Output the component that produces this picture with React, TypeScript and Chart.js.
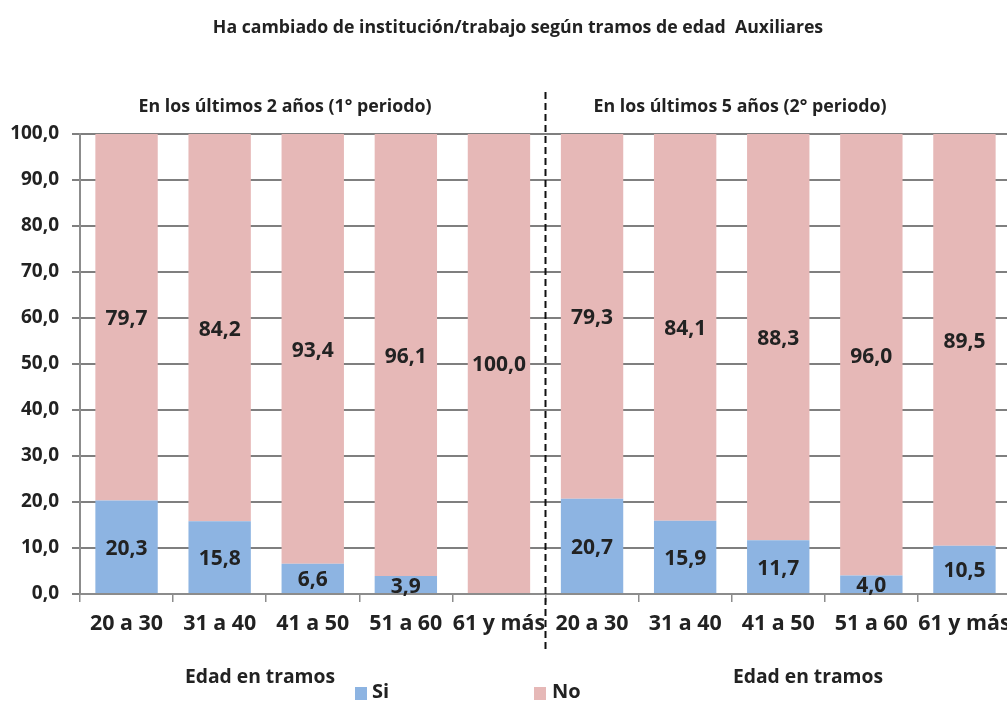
import React, { useEffect, useRef } from "react";
import { Chart, registerables } from "chart.js";

Chart.register(...registerables);

const categories = [
  "20 a 30", "31 a 40", "41 a 50", "51 a 60", "61 y más",
  "20 a 30", "31 a 40", "41 a 50", "51 a 60", "61 y más",
];
const siValues = [20.3, 15.8, 6.6, 3.9, 0, 20.7, 15.9, 11.7, 4.0, 10.5];
const noValues = [79.7, 84.2, 93.4, 96.1, 100.0, 79.3, 84.1, 88.3, 96.0, 89.5];
const yTicks = [0, 10, 20, 30, 40, 50, 60, 70, 80, 90, 100];

const chartTitle = "Ha cambiado de institución/trabajo según tramos de edad  Auxiliares";
const periodTitles = ["En los últimos 2 años (1° periodo)", "En los últimos 5 años (2° periodo)"];
const axisTitle = "Edad en tramos";
const seriesNames = ["Si", "No"];

const BLUE = "#8DB4E2";
const PINK = "#E6B8B7";
const FONT = "'Open Sans', sans-serif";

const fmt = (v: number) => v.toFixed(1).replace(".", ",");

const overlayPlugin = {
  id: "overlay",
  afterDatasetsDraw(chart: any) {
    const ctx = chart.ctx;
    ctx.save();
    ctx.font = `bold 21px ${FONT}`;
    ctx.fillStyle = "#222";
    ctx.textAlign = "center";
    ctx.textBaseline = "middle";
    chart.data.datasets.forEach((ds: any, di: number) => {
      const meta = chart.getDatasetMeta(di);
      meta.data.forEach((bar: any, i: number) => {
        const v = ds.data[i];
        if (!v) return;
        const yc = (bar.y + bar.base) / 2;
        ctx.fillText(fmt(v), bar.x, yc + 2);
      });
    });
    ctx.restore();
  },
  afterDraw(chart: any) {
    const ctx = chart.ctx;
    const x = chart.scales.x;
    ctx.save();
    ctx.fillStyle = "#222";
    ctx.textAlign = "center";
    ctx.textBaseline = "middle";
    ctx.font = `bold 17.7px ${FONT}`;
    ctx.fillText(chartTitle, 518, 28);
    ctx.font = `bold 17.8px ${FONT}`;
    ctx.fillText(periodTitles[0], 285, 107);
    ctx.fillText(periodTitles[1], 740, 107);
    ctx.font = `bold 19.3px ${FONT}`;
    ctx.fillText(axisTitle, 260, 678);
    ctx.fillText(axisTitle, 808, 678);
    // legend
    ctx.font = `bold 20px ${FONT}`;
    ctx.textAlign = "left";
    ctx.fillStyle = BLUE;
    ctx.fillRect(355, 687, 12, 13);
    ctx.fillStyle = "#222";
    ctx.fillText(seriesNames[0], 372, 692);
    ctx.fillStyle = PINK;
    ctx.fillRect(534, 687, 12, 13);
    ctx.fillStyle = "#222";
    ctx.fillText(seriesNames[1], 552, 692);
    // dashed separator
    const sep = (x.getPixelForValue(4) + x.getPixelForValue(5)) / 2;
    ctx.strokeStyle = "#111";
    ctx.lineWidth = 2;
    ctx.setLineDash([7, 4]);
    ctx.beginPath();
    ctx.moveTo(sep, 92);
    ctx.lineTo(sep, 650);
    ctx.stroke();
    ctx.restore();
  },
};

export default function App() {
  const ref = useRef<HTMLCanvasElement>(null);
  useEffect(() => {
    if (!ref.current) return;
    const chart = new Chart(ref.current, {
      type: "bar",
      data: {
        labels: categories,
        datasets: [
          { label: seriesNames[0], data: siValues, backgroundColor: BLUE, categoryPercentage: 0.67, barPercentage: 1 },
          { label: seriesNames[1], data: noValues, backgroundColor: PINK, categoryPercentage: 0.67, barPercentage: 1 },
        ],
      },
      options: {
        responsive: false,
        animation: false,
        maintainAspectRatio: false,
        layout: { padding: { top: 134, right: 14, left: 0, bottom: 0 } },
        plugins: {
          legend: { display: false },
          title: { display: false },
          tooltip: { enabled: false },
        },
        scales: {
          x: {
            stacked: true,
            afterFit: (s: any) => { s.height = 108; },
            border: { display: true, color: "#8c8c8c", width: 2 },
            grid: { drawOnChartArea: false, drawTicks: true, tickLength: 8, color: "#8c8c8c", lineWidth: 1.5 },
            ticks: { color: "#222", font: { family: FONT, size: 21.4, weight: "bold" }, padding: 9, maxRotation: 0, autoSkip: false },
          },
          y: {
            stacked: true,
            min: 0,
            max: 100,
            afterFit: (s: any) => { s.width = 80; },
            afterBuildTicks: (s: any) => { s.ticks = yTicks.map((v) => ({ value: v })); },
            border: { display: true, color: "#8c8c8c", width: 2 },
            grid: { color: "#7f7f7f", lineWidth: 2, tickLength: 8 },
            ticks: { color: "#222", font: { family: FONT, size: 19, weight: "bold" }, padding: 13, callback: (v: any) => fmt(Number(v)) },
          },
        },
      },
      plugins: [overlayPlugin],
    });
    return () => chart.destroy();
  }, []);
  return (
    <div style={{ position: "absolute", left: 0, top: 0, width: 1007, height: 702, overflow: "hidden", background: "#fff" }}>
      <canvas ref={ref} width={1025} height={702} style={{ width: 1025, height: 702 }} />
    </div>
  );
}
